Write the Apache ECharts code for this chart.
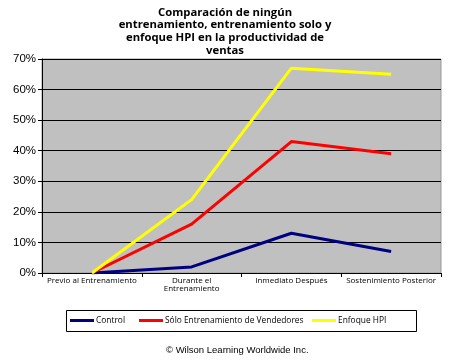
<!DOCTYPE html>
<html><head><meta charset="utf-8">
<script src="https://cdn.jsdelivr.net/npm/echarts@6/dist/echarts.min.js"></script>
<style>html,body{margin:0;padding:0;background:#fff}#c{width:450px;height:361px}</style>
</head><body><div id="c"></div>
<script>
const categories = ['Previo al Entrenamiento', 'Durante el\nEntrenamiento', 'Inmediato Después', 'Sostenimiento Posterior'];
const controlValues = [0, 2, 13, 7];
const soloValues = [0, 16, 43, 39];
const hpiValues = [0, 24, 67, 65];
const seriesNames = ['Control', 'Sólo Entrenamiento de Vendedores', 'Enfoque HPI'];
const seriesColors = ['#000080', '#ff0000', '#ffff00'];
const yTicks = [0, 10, 20, 30, 40, 50, 60, 70];

const chart = echarts.init(document.getElementById('c'), null, {renderer: 'canvas'});
const allData = [controlValues, soloValues, hpiValues];
const legendLefts = [70, 139, 312];
chart.setOption({
  animation: false,
  backgroundColor: '#fff',
  title: {
    text: 'Comparación de ningún\nentrenamiento, entrenamiento solo y\nenfoque HPI en la productividad de\nventas',
    left: 'center', top: 1,
    textStyle: {fontFamily: 'Open Sans', fontWeight: 'bold', fontSize: 11.3, lineHeight: 12.7, color: '#000'}
  },
  grid: {left: 42, right: 9, top: 59, bottom: 88, show: true, backgroundColor: '#c0c0c0', borderColor: '#999', borderWidth: 1},
  xAxis: {
    type: 'category', data: categories, boundaryGap: true,
    axisLine: {lineStyle: {color: '#000', width: 1}},
    axisTick: {show: true, length: 4, lineStyle: {color: '#000'}},
    axisLabel: {fontFamily: 'Open Sans', fontSize: 8, color: '#000', margin: 4, lineHeight: 8, interval: 0}
  },
  yAxis: {
    type: 'value', min: 0, max: 70, interval: 10,
    axisLine: {show: true, lineStyle: {color: '#000'}},
    axisTick: {show: true, length: 4, lineStyle: {color: '#000'}},
    axisLabel: {formatter: v => yTicks.includes(v) ? v + '%' : '', fontFamily: 'Arial, Liberation Sans', fontSize: 11.5, color: '#000', margin: 6},
    splitLine: {show: true, lineStyle: {color: '#000', width: 1}}
  },
  legend: seriesNames.map((n, i) => ({
    left: legendLefts[i], top: 316.5, padding: 0,
    itemWidth: 24, itemHeight: 3, itemGap: 0, icon: 'rect',
    textStyle: {fontFamily: 'Open Sans', fontSize: 8.4, color: '#000', padding: [0, 0, 0, -3]},
    data: [n]
  })),
  graphic: [{
    type: 'rect', shape: {x: 66.5, y: 310.5, width: 350, height: 21},
    style: {fill: 'none', stroke: '#000', lineWidth: 1}, silent: true
  }, {
    type: 'text', left: 166, top: 345,
    style: {text: '© Wilson Learning Worldwide Inc.', font: '9.5px Arial, Liberation Sans', fill: '#000'}
  }],
  series: seriesNames.map((n, i) => ({
    name: n, type: 'line', data: allData[i], symbol: 'none',
    lineStyle: {color: seriesColors[i], width: 3}, itemStyle: {color: seriesColors[i]}
  }))
});
</script></body></html>
